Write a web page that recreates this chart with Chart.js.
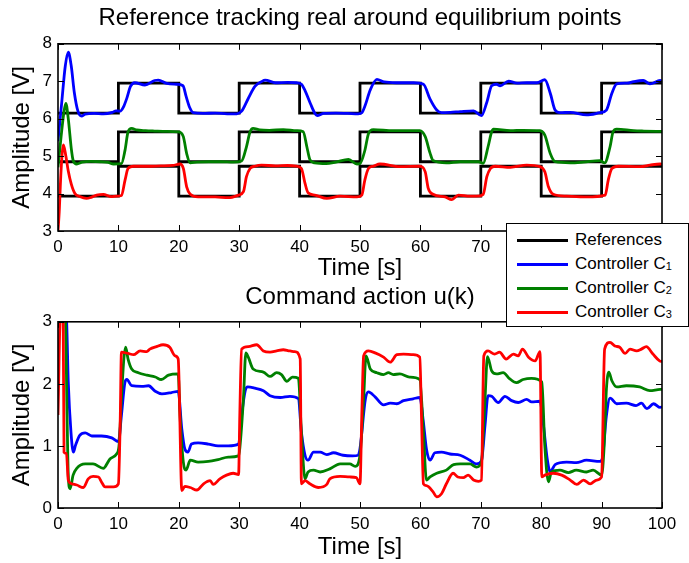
<!DOCTYPE html>
<html>
<head>
<meta charset="utf-8">
<title>Reference tracking</title>
<script src="https://cdn.jsdelivr.net/npm/chart.js@4/dist/chart.umd.min.js"></script>
<style>
  html, body { margin: 0; padding: 0; background: #fff; overflow: hidden; }
  #wrap { position: relative; width: 689px; height: 563px; }
  #topCanvas { position: absolute; left: 0; top: 0; }
  #bottomCanvas { position: absolute; left: 0; top: 282px; }
  #legend {
    position: absolute; left: 506px; top: 223px; width: 183px; height: 104px;
    box-sizing: border-box; border: 1.5px solid #000; background: #fff;
    font-family: "Liberation Sans", Arial, sans-serif; font-size: 17px; color: #000;
  }
  #legend .row { position: absolute; left: 0; height: 24px; width: 100%; }
  #legend .swatch { position: absolute; left: 10px; top: 11px; width: 51px; height: 3px; }
  #legend .label { position: absolute; left: 68px; top: 2px; white-space: nowrap; }
  #legend sub { font-size: 11px; vertical-align: -1px; }
</style>
</head>
<body>
<div id="wrap">
  <canvas id="topCanvas" width="689" height="282"></canvas>
  <canvas id="bottomCanvas" width="689" height="281"></canvas>
  <div id="legend"></div>
</div>
<script>
// Square-wave references (switch every 10 s)
const refTime   = [0, 10, 20, 30, 40, 50, 60, 70, 80, 90, 100];
const refUpper  = [6.15, 6.95, 6.15, 6.95, 6.15, 6.95, 6.15, 6.95, 6.15, 6.95, 6.95];
const refMiddle = [4.85, 5.65, 4.85, 5.65, 4.85, 5.65, 4.85, 5.65, 4.85, 5.65, 5.65];
const refLower  = [3.93, 4.73, 3.93, 4.73, 3.93, 4.73, 3.93, 4.73, 3.93, 4.73, 4.73];

// Plant outputs [t, V]
const yC1 = [[0,5.4],[0.6,6.4],[1.2,7.4],[1.7,7.78],[2.2,7.4],[2.7,6.7],[3.3,6.2],[3.9,6.07],[4.5,6.12],[6,6.14],[7.5,6.13],
  [9,6.17],[9.6,6.21],[10.3,6.2],[10.8,6.3],[11.4,6.55],[12,6.86],[12.7,6.96],[14.4,6.9],[16,7.02],[16.6,7.03],[18,6.94],
  [19.6,6.92],[20.7,6.88],[21.2,6.6],[21.8,6.3],[22.4,6.16],[24,6.14],[26,6.15],[28,6.13],[29.6,6.13],[30.4,6.2],[31.5,6.54],
  [32.6,6.86],[33.7,6.99],[34.3,7.03],[36,6.96],[38,6.97],[39.5,6.96],[40.3,6.92],[40.9,6.75],[41.8,6.4],[42.5,6.15],[42.9,6.08],
  [44,6.14],[46,6.15],[48,6.14],[49.7,6.13],[50.3,6.16],[50.8,6.33],[51.7,6.77],[52.8,7.05],[54,6.98],[56,6.96],[58.9,6.96],
  [60.5,6.92],[61.6,6.52],[62.7,6.23],[63.5,6.16],[65,6.17],[66.6,6.19],[68.8,6.21],[70.1,6.08],[71,6.44],[71.8,6.88],[72.6,6.92],
  [73.2,6.88],[74.6,7.0],[76,6.95],[77.6,6.96],[79.3,6.96],[80.6,7.04],[81.5,6.68],[82.3,6.23],[83.1,6.16],[84.8,6.17],[87.5,6.1],
  [89.7,6.16],[90.8,6.23],[91.7,6.68],[92.5,6.93],[94.2,6.95],[95.3,6.99],[96.9,7.02],[98,6.93],[99.7,7.02],[100,7.0]];

const yC2 = [[0,4.7],[0.5,5.5],[1,6.2],[1.3,6.41],[1.7,6.0],[2.2,5.2],[2.5,4.89],[3.1,4.79],[4,4.84],[5.5,4.86],[7,4.85],
  [8.3,4.83],[9.2,4.79],[10.5,4.8],[11.1,5.16],[11.6,5.65],[12.2,5.74],[13,5.7],[14.5,5.68],[16,5.67],[18,5.66],[19.9,5.65],
  [20.75,5.52],[21.3,5.07],[21.9,4.82],[23,4.84],[25,4.85],[27,4.85],[29,4.84],[30.4,4.87],[31.2,5.25],[31.8,5.65],[32.3,5.74],
  [33.4,5.7],[35,5.69],[37.3,5.71],[39.5,5.68],[40.6,5.65],[41.2,5.25],[41.7,4.91],[42.5,4.82],[44.4,4.8],[46,4.84],[48.1,4.91],
  [49.5,4.79],[50,4.8],[50.8,5.15],[51.4,5.6],[52.2,5.71],[55.5,5.68],[58,5.68],[59.9,5.68],[60.8,5.52],[61.6,5.08],[62.1,4.88],
  [64.3,4.82],[66.6,4.85],[69.6,4.85],[70.4,4.81],[71.2,5.25],[71.8,5.65],[72.1,5.72],[74.9,5.68],[77,5.69],[79.8,5.68],
  [80.6,5.56],[81.5,5.07],[82.3,4.85],[84.8,4.82],[87,4.84],[89.7,4.88],[90.5,4.82],[91.4,5.25],[91.9,5.65],[92.5,5.72],
  [95.3,5.68],[97,5.67],[100,5.66]];

const yC3 = [[0,3.0],[0.2,3.5],[0.5,4.6],[0.9,5.3],[1.3,5.0],[1.7,4.6],[2.2,4.25],[2.8,4.0],[3.6,3.92],[4.7,3.87],[5.5,3.9],
  [6.4,3.96],[7.5,3.98],[8.8,3.92],[9.7,3.93],[10.5,3.95],[11.1,4.36],[11.6,4.67],[12.5,4.73],[15,4.73],[17,4.74],[19,4.75],
  [20.2,4.79],[20.75,4.67],[21.3,4.18],[21.9,3.98],[23.2,3.91],[26,3.91],[28.2,3.89],[29.9,3.96],[30.7,4.05],[31.2,4.45],
  [31.8,4.67],[32.6,4.73],[33.7,4.76],[36,4.74],[38,4.75],[39.5,4.73],[40.3,4.67],[40.9,4.27],[41.4,4.02],[42.5,3.96],[44.5,3.87],
  [46.7,3.93],[49.5,3.91],[50.3,3.96],[50.8,4.36],[51.4,4.67],[52.2,4.73],[53.3,4.79],[56.6,4.72],[59.9,4.73],[60.8,4.58],
  [61.3,4.14],[62.1,3.98],[64.1,3.91],[65.2,3.84],[66.3,3.96],[68.2,3.93],[69.3,3.93],[70.4,3.98],[71,4.45],[71.6,4.67],
  [72.4,4.73],[74.9,4.7],[77.6,4.76],[79.8,4.72],[80.6,4.58],[81.2,4.18],[82,3.98],[84.2,3.93],[87.5,3.91],[90.6,3.96],
  [91.1,4.36],[91.7,4.67],[92.8,4.73],[96.4,4.72],[98,4.76],[99.7,4.79],[100,4.78]];

// Command signals u(k) [t, V]
const uC1 = [[0,3.1],[1.3,3.1],[1.43,3.0],[1.7,2.03],[2.15,1.22],[2.54,0.9],[2.9,1.01],[3.6,1.17],[4.5,1.21],[5.6,1.16],
  [7.2,1.16],[8.9,1.13],[10,1.07],[10.5,1.49],[11.1,2.03],[11.4,2.07],[12.2,1.97],[13.9,1.96],[15,1.97],[16.1,1.88],[17.2,1.84],
  [18.8,1.86],[19.9,1.88],[20.5,1.27],[21,0.95],[21.5,0.9],[22.1,1.03],[23.2,1.05],[24.9,1.03],[26.5,1.0],[28.2,1.0],[29.9,1.03],
  [30.4,1.49],[31,1.89],[31.4,1.95],[32.6,1.93],[34,1.89],[35.1,1.81],[36.8,1.78],[38.4,1.8],[39.8,1.76],[40.3,1.22],[40.9,0.85],
  [41.4,0.77],[42.3,0.9],[43.4,0.9],[44.5,0.86],[45.6,0.89],[47.2,0.85],[48.8,0.84],[49.7,0.85],[50,0.96],[50.9,1.76],[51.4,1.87],
  [52.5,1.79],[53.9,1.66],[55,1.69],[56.1,1.68],[57.2,1.73],[58.8,1.76],[59.9,1.78],[60.5,1.38],[61,0.95],[61.6,0.77],[62.4,0.89],
  [63.5,0.9],[64.9,0.87],[66.6,0.85],[68.2,0.77],[69.3,0.71],[70.1,0.76],[70.7,1.33],[71.2,1.81],[71.8,1.8],[72.9,1.7],[74,1.8],
  [75.1,1.73],[76.2,1.7],[77.6,1.75],[78.4,1.71],[79.8,1.72],[80.3,1.4],[81,0.79],[81.5,0.58],[82.3,0.7],[84.2,0.74],[85.8,0.73],
  [87.5,0.77],[89.7,0.75],[90.1,0.79],[90.8,1.49],[91.4,1.77],[92.5,1.68],[94.1,1.69],[95.7,1.65],[96.6,1.69],[97.5,1.6],
  [98.6,1.68],[99.7,1.62],[100,1.63]];

const uC2 = [[0,3.1],[1.2,3.1],[1.5,1.49],[1.7,0.53],[2,0.31],[2.5,0.53],[3.1,0.64],[4.5,0.71],[5.8,0.71],[7.5,0.64],[8.6,0.79],
  [9.7,0.87],[10.1,1.0],[10.5,1.76],[10.9,2.4],[11.2,2.59],[11.6,2.4],[12.2,2.24],[13.3,2.18],[14.7,2.14],[16.1,2.11],[17.1,2.07],
  [18.3,2.14],[19.9,2.16],[20.2,1.49],[20.75,0.74],[21.2,0.61],[21.9,0.77],[23.2,0.74],[24.9,0.75],[26.5,0.78],[28.2,0.82],
  [29.9,0.84],[30.1,0.96],[30.7,1.76],[31.1,2.5],[31.5,2.43],[32.3,2.24],[34,2.19],[35.1,2.12],[36.2,2.18],[37,2.15],[37.9,2.04],
  [38.8,2.11],[39.8,2.09],[40.3,1.22],[40.9,0.47],[41.4,0.58],[42.3,0.61],[43.4,0.58],[45,0.63],[46.7,0.71],[48.3,0.71],[49.2,0.67],
  [50,0.85],[50.6,1.76],[51,2.45],[51.7,2.24],[52.8,2.18],[53.9,2.15],[54.7,2.18],[55.5,2.15],[56.6,2.16],[58.2,2.11],[59.9,2.07],
  [60.5,1.22],[61,0.45],[61.6,0.5],[62.7,0.56],[64.3,0.61],[65.5,0.7],[66.6,0.71],[68.2,0.71],[69.3,0.66],[70.1,0.74],[70.7,1.76],
  [71.1,2.44],[71.8,2.21],[72.6,2.16],[73.7,2.18],[74.8,2.08],[75.9,2.02],[77,2.07],[78.4,2.09],[80.1,2.03],[80.6,1.0],[81.2,0.42],
  [81.7,0.58],[83.1,0.61],[84.5,0.57],[85.8,0.61],[87.5,0.58],[88.6,0.61],[90,0.53],[90.4,0.96],[90.8,1.92],[91.2,2.19],[91.7,2.05],
  [92.5,1.95],[94.1,1.97],[96.3,1.95],[98,1.89],[99.7,1.91],[100,1.91]];

const uC3 = [[0,1.5],[0.4,3.1],[0.85,3.1],[1,0.9],[1.4,0.88],[1.7,0.45],[2.3,0.39],[3.1,0.37],[4.2,0.33],[5,0.47],[5.8,0.51],
  [6.7,0.5],[7.2,0.42],[7.8,0.34],[9.2,0.34],[10,0.39],[10.3,1.4],[10.5,2.51],[11.6,2.49],[12.5,2.47],[13.6,2.53],[14.7,2.52],
  [15.2,2.56],[16.3,2.6],[17.4,2.63],[18.5,2.59],[19.4,2.45],[19.9,2.4],[20.5,0.28],[21,0.35],[21.9,0.33],[23,0.29],[24.1,0.39],
  [25.2,0.44],[25.7,0.38],[26.8,0.47],[27.9,0.53],[29,0.56],[29.9,0.54],[30.1,1.5],[30.4,2.56],[31.5,2.6],[32.9,2.63],[34,2.53],
  [35.1,2.51],[36.2,2.53],[37.3,2.55],[38.4,2.53],[39.2,2.52],[40.1,2.4],[40.3,0.39],[40.9,0.44],[41.7,0.39],[43.1,0.33],
  [44.5,0.38],[45,0.47],[46.7,0.51],[48.3,0.5],[49.4,0.49],[50,0.39],[50.3,1.5],[50.6,2.45],[51.4,2.53],[52.5,2.5],[53.9,2.43],
  [55,2.35],[56.1,2.47],[57.2,2.48],[58.8,2.47],[59.9,2.43],[60.2,1.4],[60.5,0.39],[61,0.36],[62.1,0.26],[62.7,0.18],[63.5,0.23],
  [64.3,0.39],[65.4,0.56],[66.2,0.5],[67.1,0.49],[67.9,0.53],[68.8,0.45],[69.6,0.43],[70.1,0.45],[70.5,2.45],[71.2,2.53],
  [72.3,2.48],[73.1,2.51],[74.2,2.4],[75.4,2.48],[76.2,2.45],[76.9,2.56],[77.9,2.43],[79,2.37],[79.8,2.52],[80.1,0.5],[80.6,0.53],
  [82,0.56],[83.4,0.53],[84.8,0.45],[85.9,0.38],[87,0.45],[88.1,0.39],[89.2,0.45],[90,0.5],[90.5,2.56],[91.4,2.67],[92.2,2.61],
  [93,2.59],[93.9,2.49],[94.7,2.56],[95.8,2.53],[96.6,2.56],[97.4,2.6],[98.5,2.48],[99.6,2.37],[100,2.36]];

const seriesNames = ['References', 'Controller C<sub>1</sub>', 'Controller C<sub>2</sub>', 'Controller C<sub>3</sub>'];
const seriesColors = ['#000000', '#0000ff', '#008000', '#ff0000'];

const FONT = '"Liberation Sans", Arial, Helvetica, sans-serif';
Chart.defaults.font.family = FONT;
Chart.defaults.color = '#000';

// MATLAB-like box: frame around the plot area plus inward ticks on all four sides
const boxTicks = {
  id: 'boxTicks',
  afterDatasetsDraw(chart) {
    const { ctx, chartArea: { left, right, top, bottom }, scales: { x, y } } = chart;
    const len = 6;
    ctx.save();
    ctx.strokeStyle = '#000';
    ctx.lineWidth = 1;
    ctx.beginPath();
    x.ticks.forEach(t => {
      const px = Math.round(x.getPixelForValue(t.value)) + 0.5;
      ctx.moveTo(px, bottom); ctx.lineTo(px, bottom - len);
      ctx.moveTo(px, top); ctx.lineTo(px, top + len);
    });
    y.ticks.forEach(t => {
      const py = Math.round(y.getPixelForValue(t.value)) + 0.5;
      ctx.moveTo(left, py); ctx.lineTo(left + len, py);
      ctx.moveTo(right, py); ctx.lineTo(right - len, py);
    });
    ctx.stroke();
    ctx.lineWidth = 1.6;
    ctx.strokeRect(left, top, right - left, bottom - top);
    ctx.restore();
  }
};

const line = (data, i, extra) => Object.assign({
  data,
  borderColor: seriesColors[i],
  borderWidth: 2.8,
  pointRadius: 0,
  cubicInterpolationMode: 'monotone',
  fill: false,
  order: 4 - i
}, extra || {});

const refLine = data => line(refTime.map((t, k) => [t, data[k]]), 0,
  { stepped: 'before', cubicInterpolationMode: 'default', tension: 0 });

const makeOptions = (title, yMin, yMax, xHeight, titlePad) => ({
  responsive: false,
  animation: false,
  layout: { padding: { left: 0, right: 27, top: 0, bottom: 0 } },
  plugins: {
    legend: { display: false },
    tooltip: { enabled: false },
    title: {
      display: true,
      text: title,
      fullSize: false,
      font: { size: 24, weight: 'normal', lineHeight: 1.2 },
      color: '#000',
      padding: titlePad
    }
  },
  scales: {
    x: {
      type: 'linear',
      min: 0,
      max: 100,
      grid: { display: false, drawTicks: false },
      border: { display: false },
      ticks: { stepSize: 10, maxRotation: 0, autoSkip: false, padding: 6, font: { size: 17 }, color: '#000' },
      title: { display: true, text: 'Time [s]', font: { size: 24, lineHeight: 1 }, color: '#000', padding: { top: 0, bottom: xHeight.titleBottom } },
      afterFit: s => { s.height = xHeight.h; }
    },
    y: {
      min: yMin,
      max: yMax,
      grid: { display: false, drawTicks: false },
      border: { display: false },
      ticks: { stepSize: 1, padding: 6, font: { size: 17 }, color: '#000' },
      title: { display: true, text: 'Amplitude [V]', font: { size: 24, lineHeight: 1 }, color: '#000', padding: { top: 10, bottom: 0 } },
      afterFit: s => { s.width = 58; }
    }
  }
});

// Tracking of the plant outputs
new Chart(document.getElementById('topCanvas'), {
  type: 'line',
  data: {
    datasets: [
      refLine(refUpper), refLine(refMiddle), refLine(refLower),
      line(yC1, 1), line(yC2, 2), line(yC3, 3)
    ]
  },
  options: makeOptions('Reference tracking real around equilibrium points', 3, 8,
    { h: 51, titleBottom: 2 }, { top: 4, bottom: 11 }),
  plugins: [boxTicks]
});

// Control effort
new Chart(document.getElementById('bottomCanvas'), {
  type: 'line',
  data: {
    datasets: [line(uC1, 1), line(uC2, 2), line(uC3, 3)]
  },
  options: makeOptions('Command action u(k)', 0, 3,
    { h: 55, titleBottom: 4 }, { top: 1, bottom: 10 }),
  plugins: [boxTicks]
});

// Shared legend box straddling both plots
const legendEl = document.getElementById('legend');
seriesNames.forEach((name, i) => {
  const row = document.createElement('div');
  row.className = 'row';
  row.style.top = (4 + i * 24) + 'px';
  row.innerHTML = '<span class="swatch" style="background:' + seriesColors[i] + '"></span>' +
    '<span class="label">' + name + '</span>';
  legendEl.appendChild(row);
});
</script>
</body>
</html>
